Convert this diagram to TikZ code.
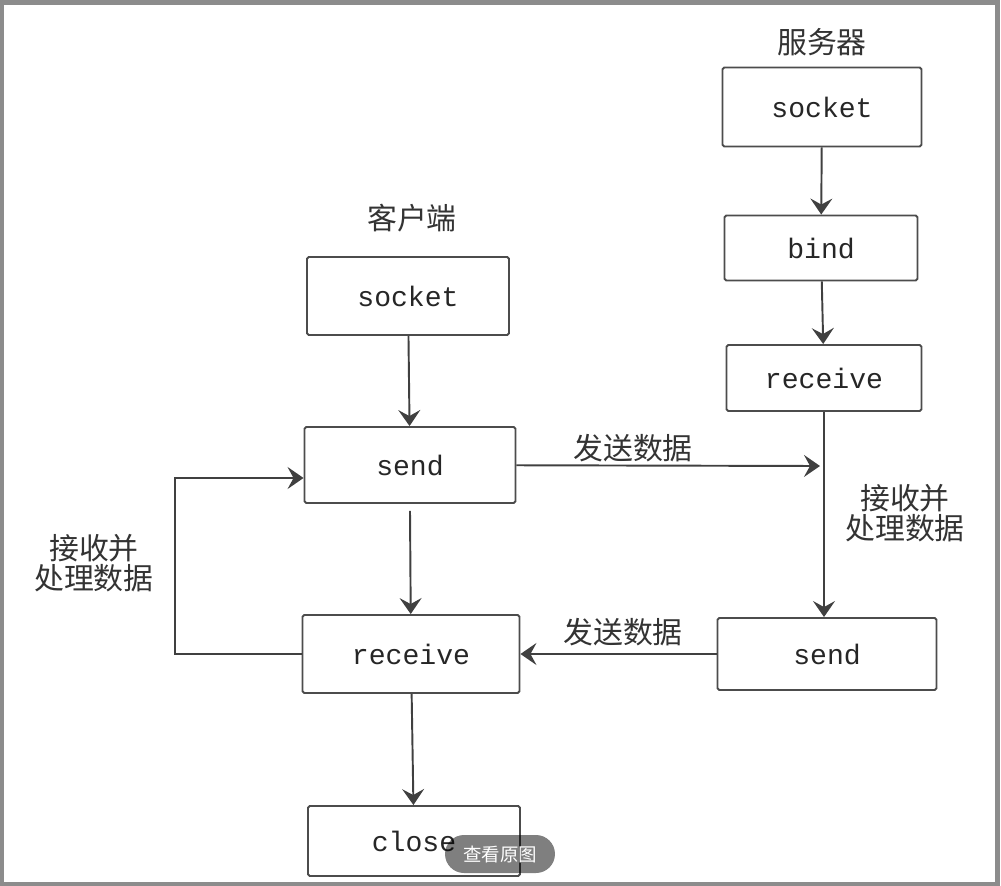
\documentclass[tikz,border=0pt]{standalone}
\usepackage{fontspec}
\usepackage{tikz}
\usetikzlibrary{arrows.meta}
\setmonofont{Liberation Mono}
\newfontfamily\cjk{Noto Sans CJK SC}
\tikzstyle{box}=[rectangle, draw=black!70, line width=1.1pt, rounded corners=1pt, text=black!85, font=\ttfamily\fontsize{16}{18}\selectfont]
\tikzstyle{cnlabel}=[align=center, text=black!80, font=\cjk\fontsize{17}{14}\selectfont]
\tikzstyle{flow}=[draw=black!75, line width=1.1pt, -{Stealth[length=0.32cm, width=0.44cm, inset=0.12cm]}]

\begin{document}
\begin{tikzpicture}[x=0.02cm, y=-0.02cm]
    \useasboundingbox (0,0) rectangle (1001,886);
    \draw[black!45, line width=0.1cm] (2,2) rectangle (997,884);

    \node[cnlabel] (stitle) at (822,42) {服务器};
    \node[box, minimum width=3.98cm, minimum height=1.58cm] (ssocket) at (822,107) {socket};
    \node[box, minimum width=3.86cm, minimum height=1.3cm] (sbind) at (821,248) {bind};
    \node[box, minimum width=3.9cm, minimum height=1.32cm] (sreceive) at (824,378) {receive};
    \node[box, minimum width=4.38cm, minimum height=1.44cm] (ssend) at (827,654) {send};

    \node[cnlabel] (ctitle) at (412,218) {客户端};
    \node[box, minimum width=4.04cm, minimum height=1.56cm] (csocket) at (408,296) {socket};
    \node[box, minimum width=4.22cm, minimum height=1.52cm] (csend) at (410,465) {send};
    \node[box, minimum width=4.34cm, minimum height=1.56cm] (creceive) at (411,654) {receive};
    \node[box, minimum width=4.24cm, minimum height=1.4cm] (cclose) at (414,841) {close};

    \coordinate (shit) at (820,466);
    \node[cnlabel] (tosrv) at (633,448) {发送数据};
    \node[cnlabel] (tocli) at (623,632) {发送数据};
    \node[cnlabel] (sproc) at (905,513) {接收并\\处理数据};
    \node[cnlabel] (cproc) at (94,563) {接收并\\处理数据};

    \draw[flow] (ssocket) -- (sbind);
    \draw[flow] (sbind) -- (sreceive);
    \draw[flow] (sreceive) -- (sreceive |- ssend.north);
    \draw[flow] (csocket) -- (csend);
    \draw[flow] ([yshift=-0.14cm]csend.south) -- (creceive);
    \draw[flow] (creceive) -- (cclose);
    \draw[flow] (csend) -- (shit);
    \draw[flow] (ssend) -- (creceive);
    \draw[flow] (creceive.west) -- ++(-127,0) |- ([yshift=-0.26cm]csend.west);

    \node[fill=black, fill opacity=0.5, text opacity=1, text=white, rounded corners=0.38cm,
        minimum width=2.2cm, minimum height=0.76cm, font=\cjk\fontsize{10.5}{12}\selectfont]
        (viewbtn) at (500,854) {查看原图};
\end{tikzpicture}
\end{document}
